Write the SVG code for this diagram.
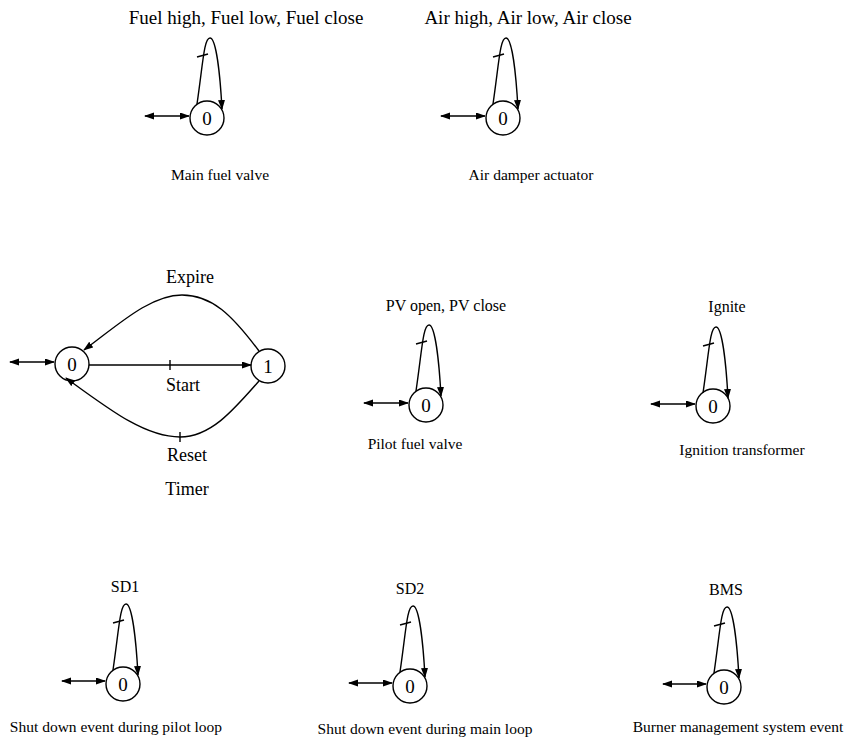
<svg xmlns="http://www.w3.org/2000/svg" width="849" height="745" viewBox="0 0 849 745">
<style>
.st{fill:none;stroke:#000;stroke-width:1.4}
.ln{fill:none;stroke:#000;stroke-width:1.4}
.ar{fill:none;stroke:#000;stroke-width:1.4;marker-end:url(#ah)}
.ini{fill:none;stroke:#000;stroke-width:1.4;marker-start:url(#ah);marker-end:url(#ah)}
text{font-family:"Liberation Serif","Times New Roman",serif;fill:#000;text-anchor:middle}
.big{font-size:19px}
.mid{font-size:18px}
.ev{font-size:16px}
.cap{font-size:15.5px}
.num{font-size:19px}
</style>
<defs>
<marker id="ah" markerUnits="userSpaceOnUse" markerWidth="10" markerHeight="8" refX="9" refY="3.5" orient="auto-start-reverse">
<path d="M0,0 L10,3.5 L0,7 z" fill="#000"/>
</marker>
</defs>
<rect width="849" height="745" fill="#fff"/>
<g id="connectors">
<!-- main fuel valve -->
<path class="ini" d="M145,116 L189,116"/>
<path class="ar" d="M197,104 C203,63 204,38 210,38 C216,38 220,73 222,109"/>
<path class="ln" d="M197,57 L208,54"/>
<!-- air damper -->
<path class="ini" d="M441,116 L485,116"/>
<path class="ar" d="M493,104 C499,63 500,38 506,38 C512,38 516,73 518,109"/>
<path class="ln" d="M493,57 L504,54"/>
<!-- timer -->
<path class="ini" d="M10,362 L54,362"/>
<path class="ar" d="M89,365 L251,365"/>
<path class="ln" d="M170,360 L170,370"/>
<path class="ar" d="M259,351 C232,315 212,295 182,295 C150,295 118,325 84,350"/>
<path class="ar" d="M259,381 C232,412 210,437 180,437 C145,437 110,410 66,378"/>
<path class="ln" d="M180,432 L180,442"/>
<!-- pilot fuel valve -->
<path class="ini" d="M364,403 L408,403"/>
<path class="ar" d="M416,391 C422,350 423,325 429,325 C435,325 439,360 441,396"/>
<path class="ln" d="M416,344 L427,341"/>
<!-- ignition -->
<path class="ini" d="M651,404 L695,404"/>
<path class="ar" d="M703,393 C709,352 710,327 716,327 C722,327 726,362 728,398"/>
<path class="ln" d="M703,346 L714,343"/>
<!-- SD1 -->
<path class="ini" d="M62,681 L105,681"/>
<path class="ar" d="M113,670 C119,629 120,604 126,604 C132,604 136,639 138,675"/>
<path class="ln" d="M113,623 L124,620"/>
<!-- SD2 -->
<path class="ini" d="M349,683 L392,683"/>
<path class="ar" d="M400,672 C406,631 407,606 413,606 C419,606 423,641 425,677"/>
<path class="ln" d="M400,625 L411,622"/>
<!-- BMS -->
<path class="ini" d="M663,684 L706,684"/>
<path class="ar" d="M714,673 C720,632 721,607 727,607 C733,607 737,642 739,678"/>
<path class="ln" d="M714,626 L725,623"/>
</g>
<g id="main-fuel-valve">
<circle class="st" cx="207" cy="118" r="17"/>
<text class="num" x="207" y="125">0</text>
<text class="big" x="246" y="24">Fuel high, Fuel low, Fuel close</text>
<text class="cap" x="220" y="180">Main fuel valve</text>
</g>
<g id="air-damper-actuator">
<circle class="st" cx="503" cy="118" r="17"/>
<text class="num" x="503" y="125">0</text>
<text class="big" x="528" y="24">Air high, Air low, Air close</text>
<text class="cap" x="531" y="180">Air damper actuator</text>
</g>
<g id="timer-0">
<circle class="st" cx="72" cy="364" r="17"/>
<text class="num" x="72" y="371">0</text>
</g>
<g id="timer-1">
<circle class="st" cx="268" cy="366" r="17"/>
<text class="num" x="268" y="373">1</text>
</g>
<g id="timer-labels">
<text class="mid" x="190" y="283">Expire</text>
<text class="mid" x="183" y="391">Start</text>
<text class="mid" x="187" y="461">Reset</text>
<text class="mid" x="187" y="495">Timer</text>
</g>
<g id="pilot-fuel-valve">
<circle class="st" cx="426" cy="405" r="17"/>
<text class="num" x="426" y="412">0</text>
<text class="ev" x="446" y="311">PV open, PV close</text>
<text class="cap" x="415" y="449">Pilot fuel valve</text>
</g>
<g id="ignition-transformer">
<circle class="st" cx="713" cy="406" r="17"/>
<text class="num" x="713" y="413">0</text>
<text class="ev" x="727" y="312">Ignite</text>
<text class="cap" x="742" y="455">Ignition transformer</text>
</g>
<g id="sd1">
<circle class="st" cx="123" cy="684" r="17"/>
<text class="num" x="123" y="691">0</text>
<text class="ev" x="125" y="592">SD1</text>
<text class="cap" x="116" y="732">Shut down event during pilot loop</text>
</g>
<g id="sd2">
<circle class="st" cx="410" cy="686" r="17"/>
<text class="num" x="410" y="693">0</text>
<text class="ev" x="410" y="594">SD2</text>
<text class="cap" x="425" y="734">Shut down event during main loop</text>
</g>
<g id="bms">
<circle class="st" cx="724" cy="687" r="17"/>
<text class="num" x="724" y="694">0</text>
<text class="ev" x="726" y="595">BMS</text>
<text class="cap" x="738" y="732">Burner management system event</text>
</g>
</svg>
